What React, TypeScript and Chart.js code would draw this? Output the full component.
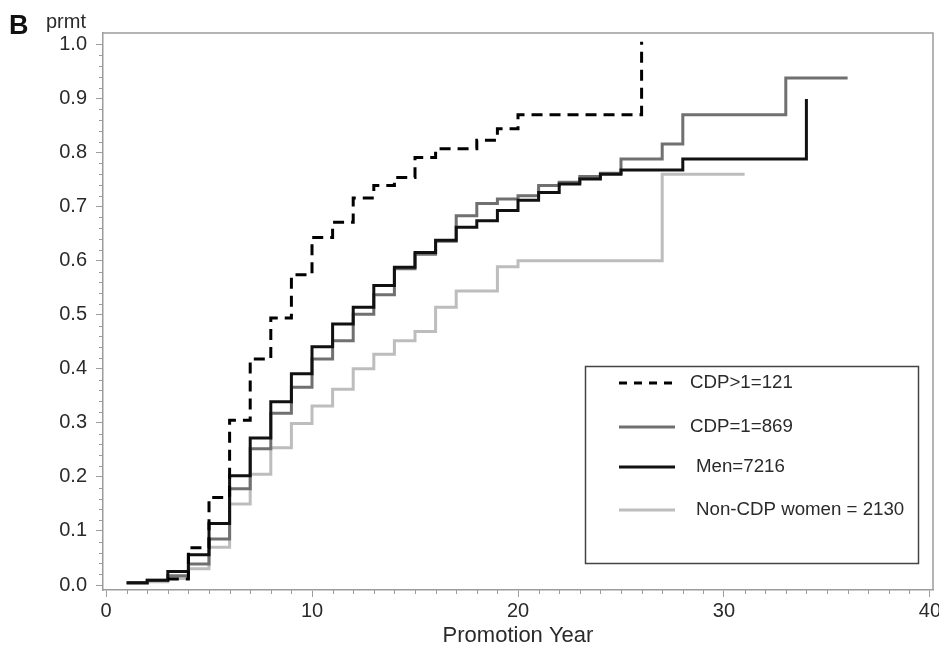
import React, { useEffect, useRef } from "react";
import { Chart, registerables } from "chart.js";

Chart.register(...registerables);

// ---- data ----
const cdpGt1Years = [3, 4, 5, 6, 7, 8, 9, 10, 11, 12, 13, 14, 15, 16, 18, 19, 20, 26];
const cdpGt1Values = [0.011, 0.069, 0.162, 0.305, 0.418, 0.494, 0.574, 0.643, 0.671, 0.716, 0.739, 0.754, 0.791, 0.807, 0.823, 0.844, 0.87, 1.005];

const menYears = [1, 2, 3, 4, 5, 6, 7, 8, 9, 10, 11, 12, 13, 14, 15, 16, 17, 18, 19, 20, 21, 22, 23, 24, 25, 28, 34];
const menValues = [0.004, 0.009, 0.025, 0.056, 0.114, 0.202, 0.272, 0.339, 0.391, 0.441, 0.483, 0.514, 0.554, 0.588, 0.615, 0.638, 0.662, 0.674, 0.693, 0.712, 0.726, 0.742, 0.751, 0.76, 0.768, 0.788, 0.899];

const cdp1Years = [1, 2, 3, 4, 5, 6, 7, 8, 9, 10, 11, 12, 13, 14, 15, 16, 17, 18, 19, 20, 21, 22, 23, 24, 25, 27, 28, 33, 36];
const cdp1Values = [0.004, 0.009, 0.017, 0.039, 0.085, 0.178, 0.252, 0.318, 0.366, 0.418, 0.452, 0.501, 0.537, 0.585, 0.612, 0.636, 0.683, 0.706, 0.714, 0.72, 0.739, 0.745, 0.756, 0.762, 0.788, 0.816, 0.87, 0.938, 0.938];

const womenYears = [1, 2, 3, 4, 5, 6, 7, 8, 9, 10, 11, 12, 13, 14, 15, 16, 17, 19, 20, 27, 31];
const womenValues = [0.003, 0.006, 0.012, 0.03, 0.07, 0.15, 0.205, 0.254, 0.299, 0.331, 0.362, 0.4, 0.427, 0.452, 0.469, 0.514, 0.544, 0.589, 0.6, 0.76, 0.76];

const seriesLabels = ["CDP>1=121", "CDP=1=869", "Men=7216", "Non-CDP women = 2130"];
const xTickValues = [0, 10, 20, 30, 40];
const yTickValues = [0, 0.1, 0.2, 0.3, 0.4, 0.5, 0.6, 0.7, 0.8, 0.9, 1.0];

const FONT = "'Liberation Sans', Arial, sans-serif";
const AXIS_COLOR = "#9c9c9c";
const TEXT_COLOR = "#2a2a2a";

const toPoints = (xs: number[], ys: number[]) => xs.map((x, i) => ({ x, y: ys[i] }));

const overlayPlugin = {
  id: "overlay",
  afterDraw(chart: any) {
    const { ctx, chartArea } = chart;
    const xs = chart.scales.x;
    const ys = chart.scales.y;
    ctx.save();
    // frame top & right
    ctx.strokeStyle = AXIS_COLOR;
    ctx.lineWidth = 1.5;
    ctx.beginPath();
    ctx.moveTo(chartArea.left, chartArea.top);
    ctx.lineTo(chartArea.right, chartArea.top);
    ctx.lineTo(chartArea.right, chartArea.bottom);
    ctx.stroke();
    // minor ticks
    ctx.lineWidth = 1;
    ctx.beginPath();
    for (let i = 0; i <= 50; i++) {
      if (i % 5 === 0) continue;
      const py = Math.round(ys.getPixelForValue(i * 0.02)) + 0.5;
      ctx.moveTo(chartArea.left - 4, py);
      ctx.lineTo(chartArea.left, py);
    }
    for (let i = 0; i <= 40; i++) {
      if (i % 10 === 0) continue;
      const px = Math.round(xs.getPixelForValue(i)) + 0.5;
      ctx.moveTo(px, chartArea.bottom);
      ctx.lineTo(px, chartArea.bottom + 4);
    }
    ctx.stroke();

    // "B" and "prmt"
    ctx.fillStyle = "#111";
    ctx.textBaseline = "alphabetic";
    ctx.textAlign = "left";
    ctx.font = `bold 27px ${FONT}`;
    ctx.fillText("B", 9, 34);
    ctx.fillStyle = TEXT_COLOR;
    ctx.font = `20px ${FONT}`;
    ctx.fillText("prmt", 46, 28);

    // legend
    ctx.strokeStyle = "#444";
    ctx.lineWidth = 1.5;
    ctx.strokeRect(585.5, 366.5, 333, 197);
    const items = [
      { y: 383, color: "#000", dash: [8, 7], textX: 690 },
      { y: 427, color: "#707070", dash: [], textX: 690 },
      { y: 467, color: "#111", dash: [], textX: 696 },
      { y: 510, color: "#bdbdbd", dash: [], textX: 696 },
    ];
    items.forEach((it, i) => {
      ctx.beginPath();
      ctx.setLineDash(it.dash);
      ctx.strokeStyle = it.color;
      ctx.lineWidth = 3;
      ctx.moveTo(619, it.y);
      ctx.lineTo(675, it.y);
      ctx.stroke();
      ctx.setLineDash([]);
      ctx.fillStyle = TEXT_COLOR;
      ctx.font = `18.7px ${FONT}`;
      ctx.textBaseline = "middle";
      ctx.fillText(seriesLabels[i], it.textX, it.y);
    });
    ctx.restore();
  },
};

export default function App() {
  const canvasRef = useRef<HTMLCanvasElement | null>(null);

  useEffect(() => {
    if (!canvasRef.current) return;
    const common = { showLine: true, stepped: true, pointRadius: 0, borderWidth: 3, fill: false };
    const chart = new Chart(canvasRef.current, {
      type: "scatter",
      data: {
        datasets: [
          { ...common, label: seriesLabels[0], data: toPoints(cdpGt1Years, cdpGt1Values), borderColor: "#000", borderDash: [11, 7] },
          { ...common, label: seriesLabels[2], data: toPoints(menYears, menValues), borderColor: "#111" },
          { ...common, label: seriesLabels[1], data: toPoints(cdp1Years, cdp1Values), borderColor: "#707070" },
          { ...common, label: seriesLabels[3], data: toPoints(womenYears, womenValues), borderColor: "#bdbdbd" },
        ],
      },
      options: {
        animation: false,
        responsive: false,
        layout: { padding: { top: 33, right: 6, left: 0, bottom: 0 } },
        plugins: { legend: { display: false }, tooltip: { enabled: false } },
        scales: {
          x: {
            type: "linear",
            min: -0.146,
            max: 40.146,
            afterBuildTicks: (s: any) => {
              s.ticks = xTickValues.map((v) => ({ value: v }));
            },
            afterFit: (s: any) => {
              s.height = 63;
              s.paddingLeft = 0;
              s.paddingRight = 0;
            },
            ticks: {
              callback: (v: any) => String(v),
              color: TEXT_COLOR,
              font: { family: FONT, size: 20 },
              padding: 2,
              maxRotation: 0,
              autoSkip: false,
            },
            grid: { drawOnChartArea: false, drawTicks: true, tickLength: 7, tickColor: AXIS_COLOR, tickWidth: 1 },
            border: { display: true, color: AXIS_COLOR, width: 1.5 },
            title: {
              display: true,
              text: "Promotion Year",
              color: TEXT_COLOR,
              font: { family: FONT, size: 22, lineHeight: 1.2 },
              padding: { top: 0, bottom: 4 },
            },
          },
          y: {
            type: "linear",
            min: -0.00925,
            max: 1.0213,
            afterBuildTicks: (s: any) => {
              s.ticks = yTickValues.map((v) => ({ value: v }));
            },
            afterFit: (s: any) => {
              s.width = 103;
              s.paddingTop = 0;
              s.paddingBottom = 0;
            },
            ticks: {
              callback: (v: any) => Number(v).toFixed(1),
              color: TEXT_COLOR,
              font: { family: FONT, size: 20 },
              padding: 9,
              autoSkip: false,
            },
            grid: { drawOnChartArea: false, drawTicks: true, tickLength: 7, tickColor: AXIS_COLOR, tickWidth: 1 },
            border: { display: true, color: AXIS_COLOR, width: 1.5 },
          },
        },
      },
      plugins: [overlayPlugin],
    } as any);
    return () => chart.destroy();
  }, []);

  return (
    <div style={{ position: "absolute", left: 0, top: 0, width: 939, height: 653, background: "#fff" }}>
      <canvas ref={canvasRef} width={939} height={653} />
    </div>
  );
}
